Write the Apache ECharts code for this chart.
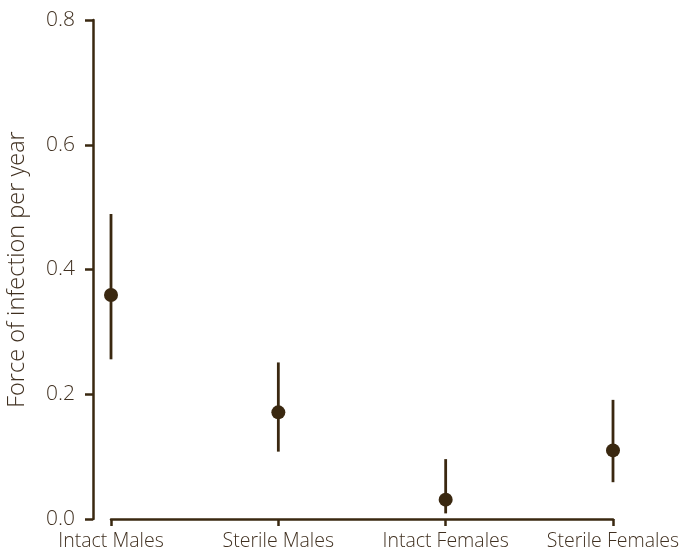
<!DOCTYPE html>
<html><head><meta charset="utf-8">
<script src="https://cdn.jsdelivr.net/npm/echarts@6/dist/echarts.min.js"></script>
<style>html,body{margin:0;padding:0;background:#fff}#c{width:681px;height:558px}</style>
</head><body><div id="c"></div>
<script>
const categories = ['Intact Males', 'Sterile Males', 'Intact Females', 'Sterile Females'];
const estimates = [0.359, 0.171, 0.031, 0.110];
const lower = [0.256, 0.108, 0.009, 0.059];
const upper = [0.489, 0.251, 0.096, 0.191];
const yTicks = [0, 0.2, 0.4, 0.6, 0.8];

const dark = '#3a2810';
const textColor = '#403020';
const font = 'Open Sans';

const chart = echarts.init(document.getElementById('c'));
chart.setOption({
  animation: false,
  grid: { left: 111, right: 68, top: 20, bottom: 39, outerBoundsMode: 'none', containLabel: false },
  xAxis: {
    type: 'category', data: categories, boundaryGap: false, offset: 4,
    axisLine: { lineStyle: { color: dark, width: 2.5 } },
    axisTick: { alignWithLabel: true, interval: 0, length: 7, lineStyle: { color: dark, width: 2.5 } },
    axisLabel: { interval: 0, hideOverlap: false, color: textColor, fontSize: 19.5, fontWeight: 300, fontFamily: font, margin: 8.5 }
  },
  yAxis: {
    type: 'value', min: 0, max: 0.8, interval: 0.2, offset: 18,
    name: 'Force of infection per year', nameLocation: 'middle', nameGap: 64,
    nameTextStyle: { color: textColor, fontSize: 23.5, fontWeight: 300, fontFamily: font },
    axisLine: { show: true, lineStyle: { color: dark, width: 2.5 } },
    axisTick: { show: true, length: 8, lineStyle: { color: dark, width: 2.5 } },
    splitLine: { show: false },
    axisLabel: { color: textColor, fontSize: 21, fontWeight: 300, fontFamily: font, margin: 18,
      formatter: v => yTicks.includes(+v.toFixed(1)) ? v.toFixed(1) : '' }
  },
  series: [
    {
      type: 'custom',
      data: categories.map((c, i) => [i, lower[i], upper[i]]),
      renderItem: (params, api) => {
        const a = api.coord([api.value(0), api.value(1)]);
        const b = api.coord([api.value(0), api.value(2)]);
        return { type: 'line', shape: { x1: a[0], y1: a[1], x2: b[0], y2: b[1] },
          style: { stroke: dark, lineWidth: 2.8 } };
      },
      z: 1
    },
    {
      type: 'scatter',
      data: categories.map((c, i) => [i, estimates[i]]),
      symbolSize: 14,
      itemStyle: { color: dark, opacity: 1 },
      z: 2
    }
  ]
});
</script></body></html>
